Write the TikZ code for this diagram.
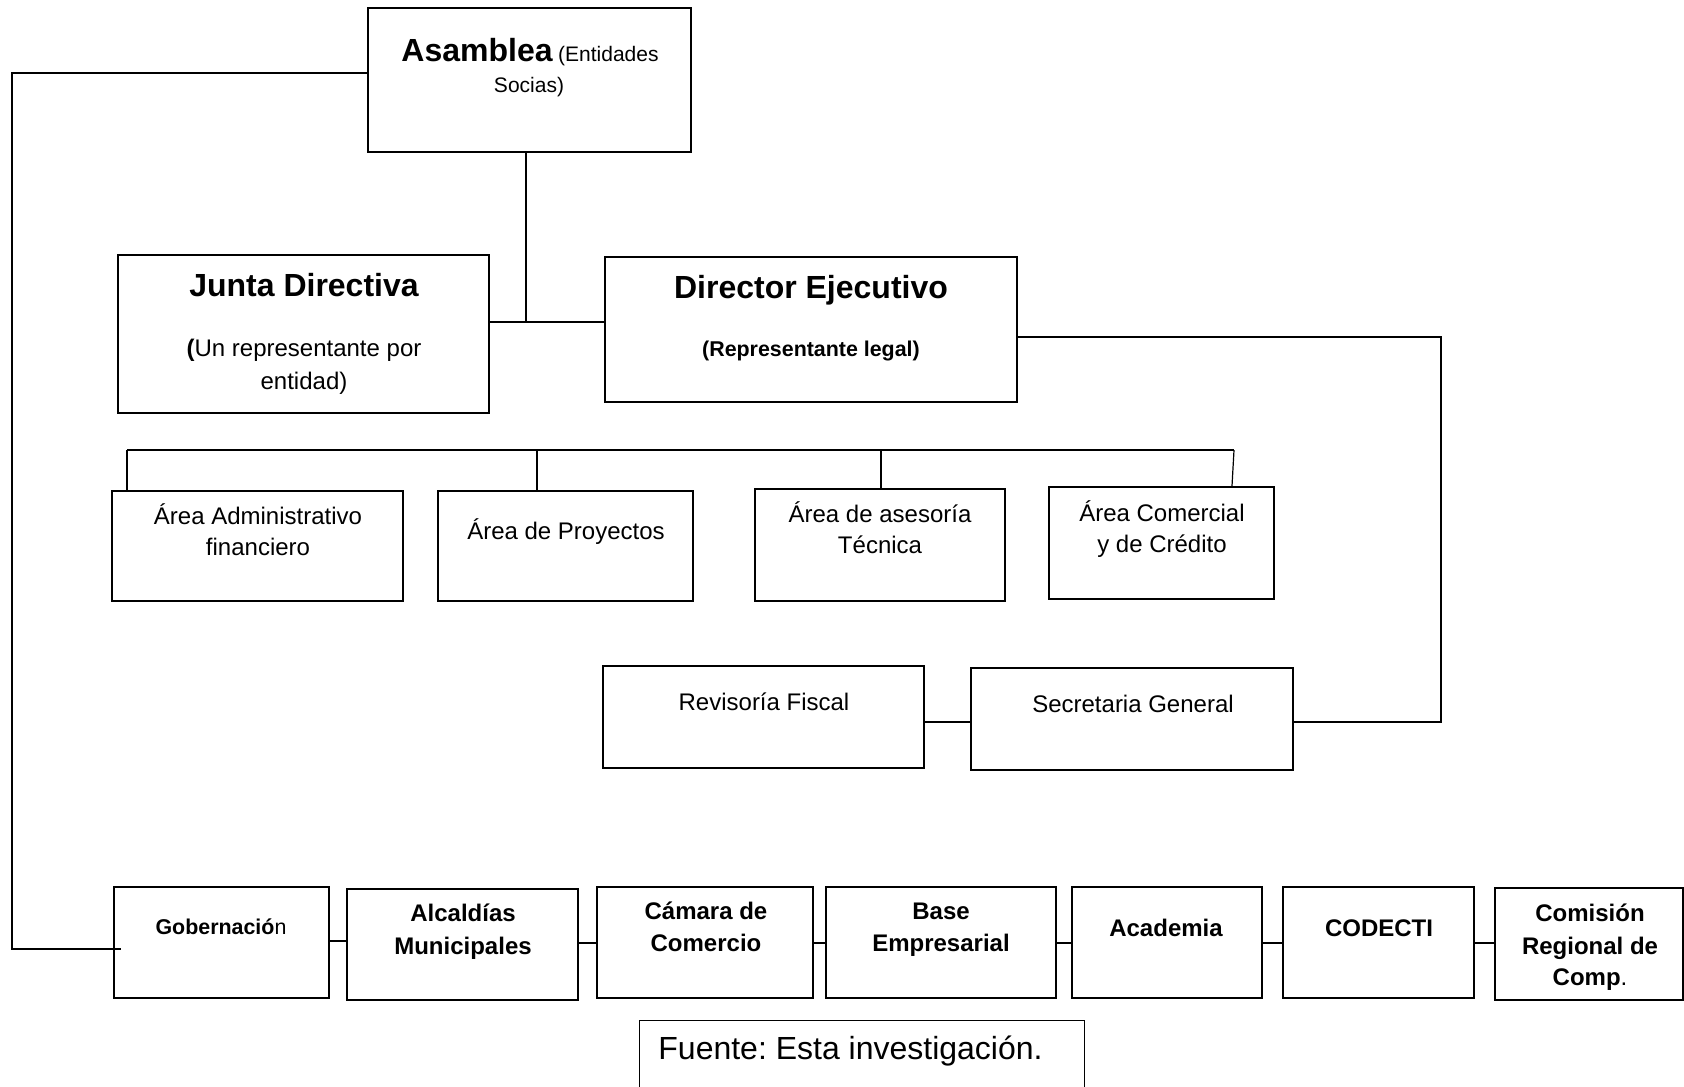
\documentclass[tikz,border=0pt]{standalone}
\usepackage{fontspec}
\setmainfont{Liberation Sans}
\frenchspacing
\usetikzlibrary{fit,calc}
\begin{document}
\begin{tikzpicture}[x=0.5pt,y=-0.5pt,
  box/.style={draw, line width=1.2pt, inner sep=0pt},
  thinbox/.style={draw, line width=0.5pt, inner sep=0pt},
  conn/.style={line width=0.6pt},
  txt/.style={anchor=base, inner sep=0pt, align=center, font=\fontsize{12}{14}\selectfont},
  btxt/.style={anchor=base, inner sep=0pt, align=center, font=\fontsize{12}{14}\selectfont\bfseries},
  big/.style={anchor=base, inner sep=0pt, align=center, font=\fontsize{16}{19}\selectfont\bfseries},
]
\useasboundingbox (0,0) rectangle (1684,1086);
\fill[white] (0,0) rectangle (1684,1086);

% top boxes
\node[box, fit={(368,8)(691,152)}] (asm) {};
\node[box, fit={(118,255)(489,413)}] (jd) {};
\node[box, fit={(605,257)(1017,402)}] (de) {};

\node[anchor=base, inner sep=0pt] (asmt1) at (530,62) {{\fontsize{16}{19}\selectfont\bfseries Asamblea} {\fontsize{10.5}{12}\selectfont (Entidades}};
\node[anchor=base, inner sep=0pt, font=\fontsize{10.5}{12}\selectfont] (asmt2) at (529,93) {Socias)};

\node[big] (jdt1) at (304,296) {Junta Directiva};
\node[txt] (jdt2) at (304,356) {\textbf{(}Un representante por};
\node[txt] (jdt3) at (304,389) {entidad)};

\node[big] (det1) at (811,298) {Director Ejecutivo};
\node[anchor=base, inner sep=0pt, font=\fontsize{10.7}{13}\selectfont\bfseries] (det2) at (811,356) {(Representante legal)};

% areas
\node[box, fit={(112,491)(403,601)}] (a1) {};
\node[box, fit={(438,491)(693,601)}] (a2) {};
\node[box, fit={(755,489)(1005,601)}] (a3) {};
\node[box, fit={(1049,487)(1274,599)}] (a4) {};

\node[txt] (a1t1) at (258,524) {Área Administrativo};
\node[txt] (a1t2) at (258,555) {financiero};
\node[txt] (a2t1) at (566,539) {Área de Proyectos};
\node[txt] (a3t1) at (880,522) {Área de asesoría};
\node[txt] (a3t2) at (880,553) {Técnica};
\node[txt] (a4t1) at (1162,521) {Área Comercial};
\node[txt] (a4t2) at (1162,552) {y de Crédito};

% revisoria / secretaria
\node[box, fit={(603,666)(924,768)}] (rf) {};
\node[box, fit={(971,668)(1293,770)}] (sg) {};
\node[txt] (rft) at (764,710) {Revisoría Fiscal};
\node[txt] (sgt) at (1133,712) {Secretaria General};

% bottom row
\node[box, fit={(114,887)(329,998)}] (b1) {};
\node[box, fit={(347,889)(578,1000)}] (b2) {};
\node[box, fit={(597,887)(813,998)}] (b3) {};
\node[box, fit={(826,887)(1056,998)}] (b4) {};
\node[box, fit={(1072,887)(1262,998)}] (b5) {};
\node[box, fit={(1283,887)(1474,998)}] (b6) {};
\node[box, fit={(1495,888)(1683,1000)}] (b7) {};

\node[anchor=base, inner sep=0pt, font=\fontsize{10.7}{13}\selectfont] (b1t) at (221,934) {\textbf{Gobernació}n};
\node[btxt] (b2t1) at (463,921) {Alcaldías};
\node[btxt] (b2t2) at (463,954) {Municipales};
\node[btxt] (b3t1) at (706,919) {Cámara de};
\node[btxt] (b3t2) at (706,951) {Comercio};
\node[btxt] (b4t1) at (941,919) {Base};
\node[btxt] (b4t2) at (941,951) {Empresarial};
\node[btxt] (b5t) at (1166,936) {Academia};
\node[btxt] (b6t) at (1379,936) {CODECTI};
\node[btxt] (b7t1) at (1590,921) {Comisión};
\node[btxt] (b7t2) at (1590,954) {Regional de};
\node[txt] (b7t3) at (1590,985) {\textbf{Comp}.};

% source box (open at bottom, cut by page)
\node[thinbox, fit={(639,1020)(1084,1120)}] (src) {};
\node[anchor=base west, inner sep=0pt, font=\fontsize{16}{19}\selectfont] (srct) at (658,1059) {Fuente: Esta investigación.};

% connectors
\coordinate (L1) at (12,73);
\coordinate (L2) at (12,949);
\coordinate (L3) at (121,949);
\draw[conn] (asm.west |- L1) -- (L1) -- (L2) -- (L3);

\coordinate (J) at (526,322);
\draw[conn] (asm.south -| J) -- (J);
\draw[conn] (jd.east |- J) -- (J) -- (de.west |- J);

\coordinate (R1) at (1441,337);
\coordinate (R2) at (1441,722);
\draw[conn] (de.east |- R1) -- (R1) -- (R2) -- (sg.east |- R2);

\draw[conn] (rf.east |- 0,722) -- (sg.west |- 0,722);

\coordinate (H1) at (127,450);
\coordinate (H2) at (1234,450);
\draw[conn] (H1) -- (H2);
\draw[conn] (H1) -- (a1.north -| H1);
\draw[line width=1.2pt] (537,450) -- (a2.north -| 537,0);
\draw[conn] (881,450) -- (a3.north -| 881,0);
\draw[conn] (H2) -- (a4.north -| 1232,0);

\draw[conn] (b1.east |- 0,941) -- (b2.west |- 0,941);
\draw[conn] (b2.east |- 0,943) -- (b3.west |- 0,943);
\draw[conn] (b3.east |- 0,943) -- (b4.west |- 0,943);
\draw[conn] (b4.east |- 0,943) -- (b5.west |- 0,943);
\draw[conn] (b5.east |- 0,943) -- (b6.west |- 0,943);
\draw[conn] (b6.east |- 0,943) -- (b7.west |- 0,943);
\end{tikzpicture}
\end{document}
